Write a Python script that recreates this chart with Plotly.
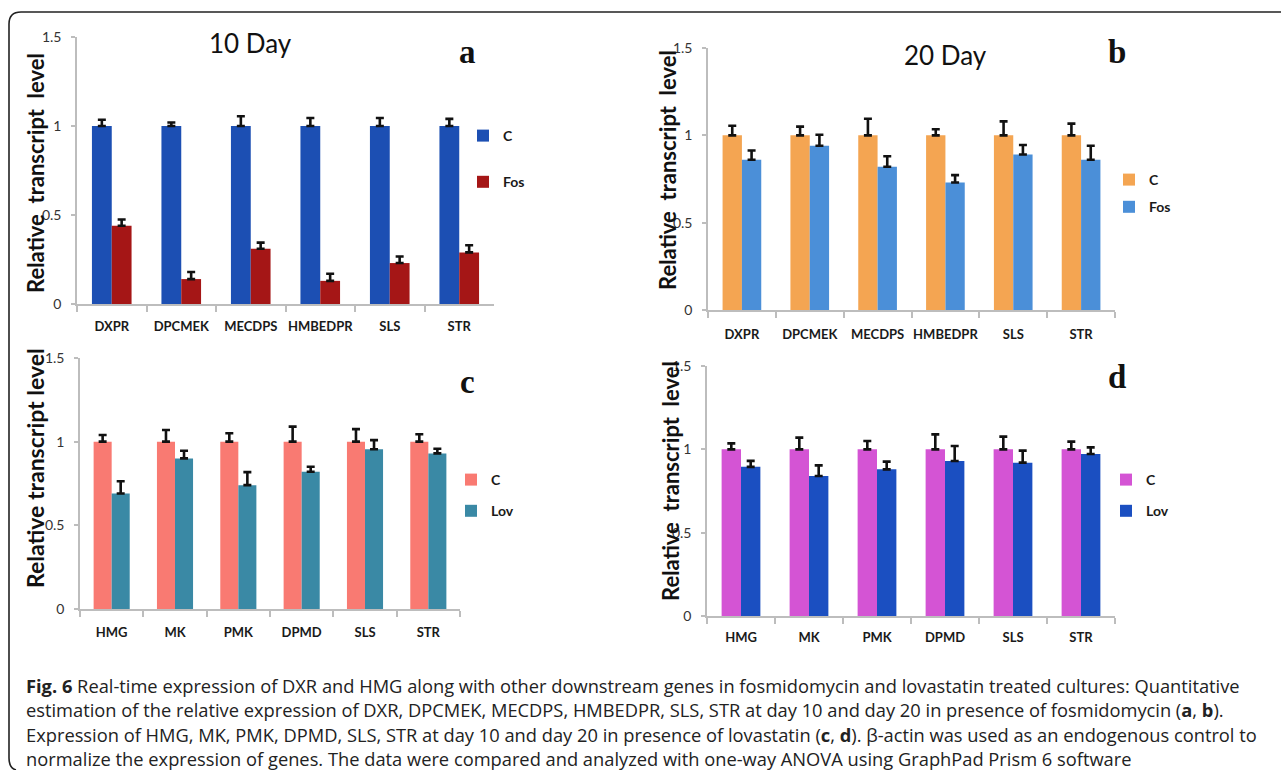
import plotly.graph_objects as go

W, H = 1281, 770

genes_fos = ["DXPR", "DPCMEK", "MECDPS", "HMBEDPR", "SLS", "STR"]
genes_lov = ["HMG", "MK", "PMK", "DPMD", "SLS", "STR"]

a_C = [1.0, 1.0, 1.0, 1.0, 1.0, 1.0]
a_C_err = [0.035, 0.02, 0.055, 0.045, 0.045, 0.04]
a_Fos = [0.44, 0.14, 0.31, 0.13, 0.23, 0.29]
a_Fos_err = [0.035, 0.04, 0.035, 0.04, 0.037, 0.04]

b_C = [1.0, 1.0, 1.0, 1.0, 1.0, 1.0]
b_C_err = [0.055, 0.05, 0.095, 0.035, 0.08, 0.067]
b_Fos = [0.86, 0.94, 0.82, 0.73, 0.89, 0.86]
b_Fos_err = [0.053, 0.063, 0.06, 0.042, 0.055, 0.08]

c_C = [1.0, 1.0, 1.0, 1.0, 1.0, 1.0]
c_C_err = [0.04, 0.07, 0.05, 0.09, 0.075, 0.044]
c_Lov = [0.69, 0.90, 0.74, 0.82, 0.955, 0.93]
c_Lov_err = [0.073, 0.046, 0.078, 0.03, 0.054, 0.028]

d_C = [1.0, 1.0, 1.0, 1.0, 1.0, 1.0]
d_C_err = [0.036, 0.07, 0.05, 0.09, 0.076, 0.046]
d_Lov = [0.895, 0.84, 0.88, 0.93, 0.92, 0.972]
d_Lov_err = [0.036, 0.064, 0.046, 0.09, 0.072, 0.04]

y_ticks = [0, 0.5, 1, 1.5]
y_tick_labels = ["0", "0.5", "1", "1.5"]


def px(x):
    return x / W


def py(y):
    return 1 - y / H


panels = [
    ("", genes_fos, "C", a_C, a_C_err, "#1c4fb3", "Fos", a_Fos, a_Fos_err, "#a51616",
     77, 494, 37, 304, "legend", 10),
    ("2", genes_fos, "C", b_C, b_C_err, "#f4a552", "Fos", b_Fos, b_Fos_err, "#4b8fd8",
     708, 1115, 48, 310, "legend2", 12),
    ("3", genes_lov, "C", c_C, c_C_err, "#f97a72", "Lov", c_Lov, c_Lov_err, "#3a89a5",
     80, 460, 358, 609, "legend3", 11),
    ("4", genes_lov, "C", d_C, d_C_err, "#d454d4", "Lov", d_Lov, d_Lov_err, "#1b4fc1",
     707, 1115, 366, 616, "legend4", 9),
]

fig = go.Figure()
layout = {}

for i, (suf, genes, n1, v1, e1, c1, n2, v2, e2, c2, x0, x1, yt, yb, leg, xstand) in enumerate(panels):
    xa = "x" + suf
    ya = "y" + suf
    for j, (n, v, e, c) in enumerate([(n1, v1, e1, c1), (n2, v2, e2, c2)]):
        fig.add_trace(go.Bar(
            x=genes, y=v, name=n, marker=dict(color=c, line=dict(width=0)),
            error_y=dict(type="data", array=e, arrayminus=[0] * len(e), symmetric=False,
                         color="#111111", thickness=2.6, width=4),
            xaxis=xa, yaxis=ya, legend=leg, legendgroup=f"g{i}{j}", showlegend=True,
        ))
    layout["xaxis" + suf] = dict(
        domain=[px(x0), px(x1)], anchor=ya, type="category", range=[-0.5, 5.5],
        showline=True, linecolor="#bdbdbd", linewidth=1.5,
        ticks="outside", tickson="boundaries", ticklen=6, tickcolor="#bdbdbd", tickwidth=1.5,
        tickfont=dict(family="Lato", size=13, color="#1a1a1a", weight="bold"),
        tickangle=0, ticklabelstandoff=xstand, showgrid=False, zeroline=False,
        fixedrange=True, automargin=False,
    )
    layout["yaxis" + suf] = dict(
        domain=[py(yb), py(yt)], anchor=xa, range=[0, 1.5],
        tickvals=y_ticks, ticktext=y_tick_labels,
        showline=True, linecolor="#bdbdbd", linewidth=1.5,
        ticks="outside", ticklen=4, tickcolor="#bdbdbd", tickwidth=1.5,
        tickfont=dict(family="Lato", size=14, color="#333333"),
        ticklabelstandoff=7, showgrid=False, zeroline=False, fixedrange=True,
        automargin=False,
    )

legend_pos = {
    "legend": (463, 120, 25),
    "legend2": (1109, 164, 6),
    "legend3": (451, 464, 10),
    "legend4": (1106, 464, 10),
}
for k, (lx, ly, gap) in legend_pos.items():
    layout[k] = dict(
        x=px(lx), y=py(ly), xanchor="left", yanchor="top",
        bgcolor="rgba(0,0,0,0)", borderwidth=0, tracegroupgap=gap,
        itemwidth=30, traceorder="grouped",
        font=dict(family="Lato", size=14, color="#1a1a1a", weight="bold"),
    )

annotations = []


def ann(x, y, text, font, xanchor="center", yanchor="middle", **kw):
    d = dict(x=px(x), y=py(y), xref="paper", yref="paper", text=text, showarrow=False,
             font=font, xanchor=xanchor, yanchor=yanchor)
    d.update(kw)
    annotations.append(d)


ann(250, 43, "10 Day", dict(family="Lato", size=26, color="#111111"))
ann(945, 55, "20 Day", dict(family="Lato", size=26, color="#111111"))
for t, (lx, ly) in zip(["a", "b", "c", "d"], [(467, 52), (1117, 52), (467, 382), (1117, 377)]):
    ann(lx, ly, f"<b>{t}</b>", dict(family="Liberation Serif", size=33, color="#111111"))
for t, (lx, ly), fs in zip(["Relative  transcript  level", "Relative  transcript  level",
                            "Relative transcript level", "Relative  transcript  level"],
                           [(35, 173), (668, 170), (35, 468), (670, 481)],
                           [22, 22, 23, 22]):
    ann(lx, ly, f"<b>{t}</b>", dict(family="Lato", size=fs, color="#111111"), textangle=-90)

caption_lines = [
    "<b>Fig. 6</b> Real-time expression of DXR and HMG along with other downstream genes in fosmidomycin and lovastatin treated cultures: Quantitative",
    "estimation of the relative expression of DXR, DPCMEK, MECDPS, HMBEDPR, SLS, STR at day 10 and day 20 in presence of fosmidomycin (<b>a</b>, <b>b</b>).",
    "Expression of HMG, MK, PMK, DPMD, SLS, STR at day 10 and day 20 in presence of lovastatin (<b>c</b>, <b>d</b>). β-actin was used as an endogenous control to",
    "normalize the expression of genes. The data were compared and analyzed with one-way ANOVA using GraphPad Prism 6 software",
]
for t, ly in zip(caption_lines, [685, 709.5, 734, 758]):
    ann(24, ly, t, dict(family="Open Sans", size=18.3, color="#222222"), xanchor="left")

frame_path = (f"M {px(1281)},{py(12)} L {px(21)},{py(12)} Q {px(9)},{py(12)} {px(9)},{py(24)} "
              f"L {px(9)},{py(758)} Q {px(9)},{py(768)} {px(16)},{py(770)}")
shapes = [dict(type="path", xref="paper", yref="paper", path=frame_path,
               line=dict(color="#222222", width=1.6))]

fig.update_layout(
    width=W, height=H, margin=dict(l=0, r=0, t=0, b=0, autoexpand=False),
    paper_bgcolor="white", plot_bgcolor="white",
    barmode="group", bargap=0.43, bargroupgap=0,
    annotations=annotations, shapes=shapes, **layout,
)

fig.write_html("out.html")
